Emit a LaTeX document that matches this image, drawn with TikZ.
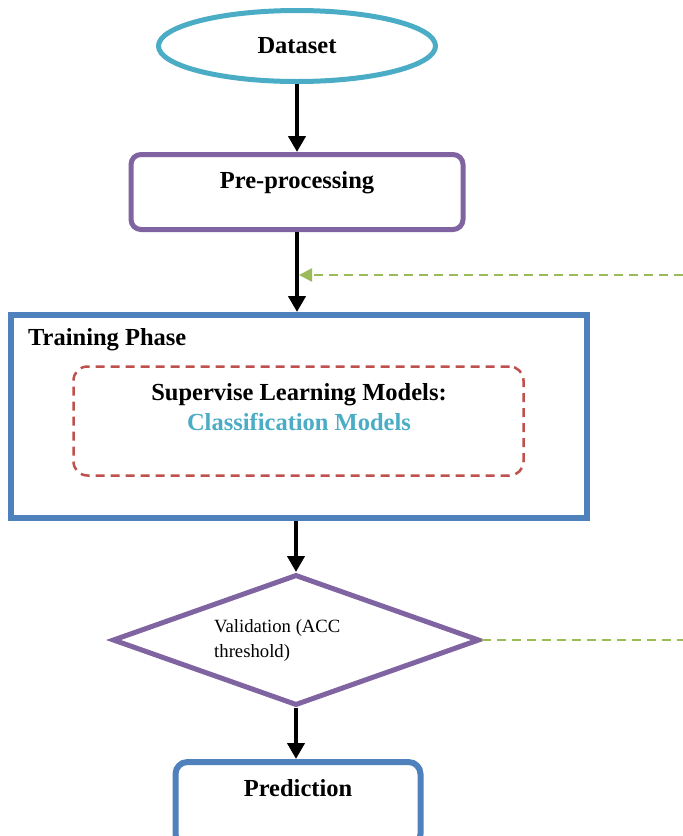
\documentclass[tikz,border=0pt]{standalone}
\usepackage{fontspec}
\setmainfont{Liberation Serif}
\usetikzlibrary{shapes.geometric,arrows.meta}
\definecolor{cyanE}{HTML}{4BACC6}
\definecolor{purp}{HTML}{8064A2}
\definecolor{blueB}{HTML}{4F81BD}
\definecolor{redR}{HTML}{C0504D}
\definecolor{greenG}{HTML}{9BBB59}
\tikzset{
  bigtxt/.style={font=\bfseries\fontsize{24.5}{30}\selectfont},
  flow/.style={line width=4.5pt, -{Triangle[width=17pt,length=16pt]}},
  fb/.style={draw=greenG, line width=2.5pt, dash pattern=on 9pt off 6pt},
}
\begin{document}
\begin{tikzpicture}[x=1pt,y=-1pt]
\useasboundingbox[fill=white] (0,0) rectangle (683,836);

\node[ellipse, draw=cyanE, line width=5pt, minimum width=277pt, minimum height=71pt, bigtxt] (ds) at (297,46) {Dataset};

\node[rectangle, rounded corners=10pt, draw=purp, line width=5pt, minimum width=332pt, minimum height=75pt,
  label={[bigtxt, yshift=9pt]center:Pre-processing}] (pp) at (297,192) {};

\node[rectangle, draw=blueB, line width=6pt, minimum width=576pt, minimum height=203pt] (tr) at (299,416.5) {};
\node[bigtxt, anchor=west, inner sep=0pt] (tp) at (28,340) {Training Phase};

\node[rectangle, rounded corners=14pt, draw=redR, line width=2.5pt, dash pattern=on 9pt off 6pt,
  minimum width=450pt, minimum height=109pt] (sl) at (298.5,421) {};
\node[bigtxt, align=center, inner sep=0pt] (slt) at (299,407) {Supervise Learning Models:\\\textcolor{cyanE}{Classification Models}};

\node[diamond, draw=purp, line width=5pt, minimum width=367pt, minimum height=131pt, inner sep=0pt] (val) at (296,640) {};
\node[anchor=west, align=left, inner sep=0pt, font=\fontsize{18.7}{25}\selectfont] (valt) at (214,640) {Validation (ACC\\threshold)};

\node[rectangle, rounded corners=12pt, draw=blueB, line width=6pt, minimum width=245pt, minimum height=84pt,
  label={[bigtxt, yshift=16pt]center:Prediction}] (pr) at (298,804) {};

\draw[flow] (ds.south) -- (pp.north);
\draw[flow] (pp.south) -- (pp.south |- tr.north);
\draw[flow] (tr.south -| val.north) -- (val.north);
\draw[flow] (val.south) -- (val.south |- pr.north);

\coordinate (g1) at (683,275);
\coordinate (g2) at (299,275);
\draw[fb, -{Triangle[width=13pt,length=13pt]}] (g1) -- (g2);
\coordinate (g3) at (683,640);
\draw[fb] (val.east) -- (g3);
\end{tikzpicture}
\end{document}
